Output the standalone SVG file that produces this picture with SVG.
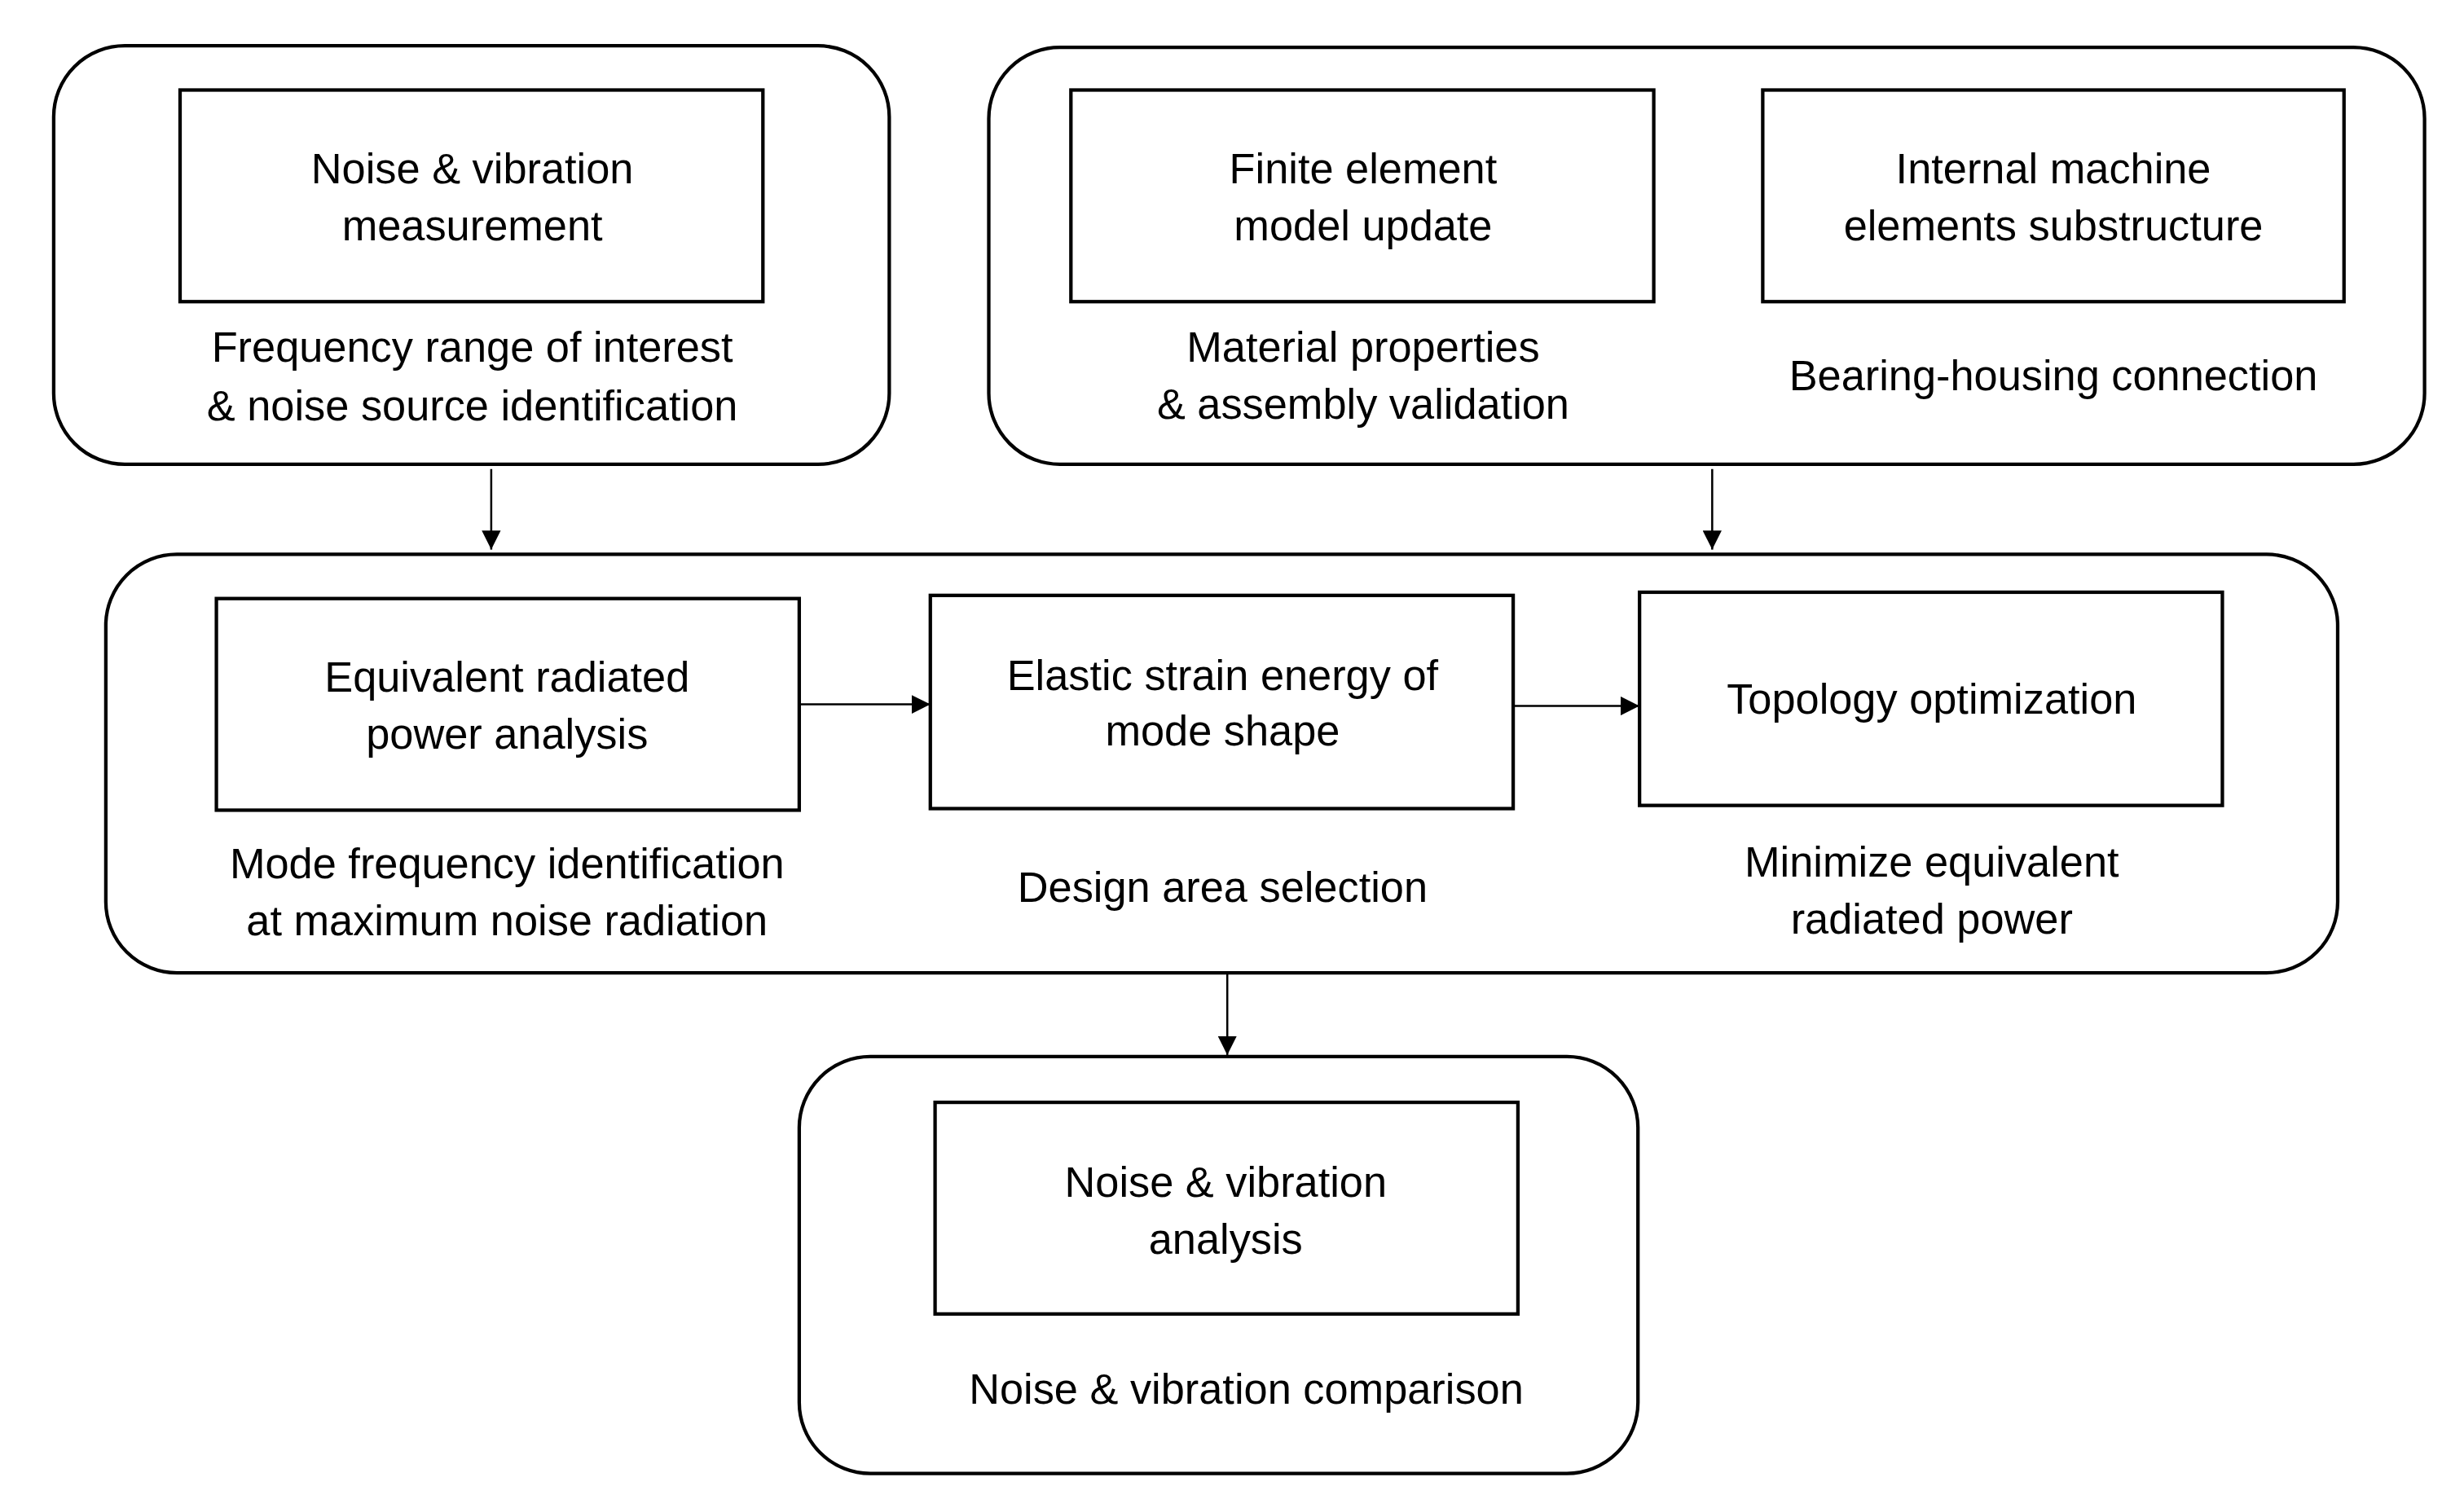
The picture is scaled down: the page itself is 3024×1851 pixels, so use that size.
<svg xmlns="http://www.w3.org/2000/svg" width="3024" height="1851" viewBox="0 0 3024 1851">
<defs>
<style>
.o{fill:none;stroke:#000;stroke-width:2.2}
.i{fill:#fff;stroke:#000;stroke-width:2.2}
text{font-family:"Liberation Sans",Arial,sans-serif;font-size:27px;fill:#000;text-anchor:middle}
.c{stroke:#000;stroke-width:1.3;fill:none;marker-end:url(#a)}
</style>
<marker id="a" viewBox="0 0 10 10" refX="10" refY="5" markerWidth="12" markerHeight="12" markerUnits="userSpaceOnUse" orient="auto"><path d="M0,0L10,5L0,10z" fill="#000"/></marker>
</defs>
<rect width="3024" height="1851" fill="#fff"/>
<g transform="scale(1.9385)">
<g id="group1">
<rect class="o" x="34" y="29" width="529" height="265" rx="45"/>
<rect class="i" x="114" y="57" width="369" height="134"/>
<text x="299" y="116">Noise &amp; vibration</text>
<text x="299" y="152">measurement</text>
<text x="299" y="229">Frequency range of interest</text>
<text x="299" y="266">&amp; noise source identification</text>
</g>
<g id="group2">
<rect class="o" x="626" y="30" width="909" height="264" rx="45"/>
<rect class="i" x="678" y="57" width="369" height="134"/>
<text x="863" y="116">Finite element</text>
<text x="863" y="152">model update</text>
<text x="863" y="229">Material properties</text>
<text x="863" y="265">&amp; assembly validation</text>
<rect class="i" x="1116" y="57" width="368" height="134"/>
<text x="1300" y="116">Internal machine</text>
<text x="1300" y="152">elements substructure</text>
<text x="1300" y="247">Bearing-housing connection</text>
</g>
<g id="group3">
<rect class="o" x="67" y="351" width="1413" height="265" rx="45"/>
<rect class="i" x="137" y="379" width="369" height="134"/>
<text x="321" y="438">Equivalent  radiated</text>
<text x="321" y="474">power analysis</text>
<text x="321" y="556">Mode frequency identification</text>
<text x="321" y="592">at maximum  noise radiation</text>
<rect class="i" x="589" y="377" width="369" height="135"/>
<text x="774" y="437">Elastic strain energy of</text>
<text x="774" y="472">mode shape</text>
<text x="774" y="571">Design area selection</text>
<rect class="i" x="1038" y="375" width="369" height="135"/>
<text x="1223" y="452">Topology optimization</text>
<text x="1223" y="555">Minimize equivalent</text>
<text x="1223" y="591">radiated power</text>
</g>
<g id="group4">
<rect class="o" x="506" y="669" width="531" height="264" rx="45"/>
<rect class="i" x="592" y="698" width="369" height="134"/>
<text x="776" y="758">Noise &amp; vibration</text>
<text x="776" y="794">analysis</text>
<text x="789" y="889">Noise &amp; vibration comparison</text>
</g>
<g id="connectors">
<path class="c" d="M311 297V348"/>
<path class="c" d="M1084 297V348"/>
<path class="c" d="M506 446L589 446"/>
<path class="c" d="M958 447L1038 447"/>
<path class="c" d="M777 616V668"/>
</g>
</g>
</svg>
